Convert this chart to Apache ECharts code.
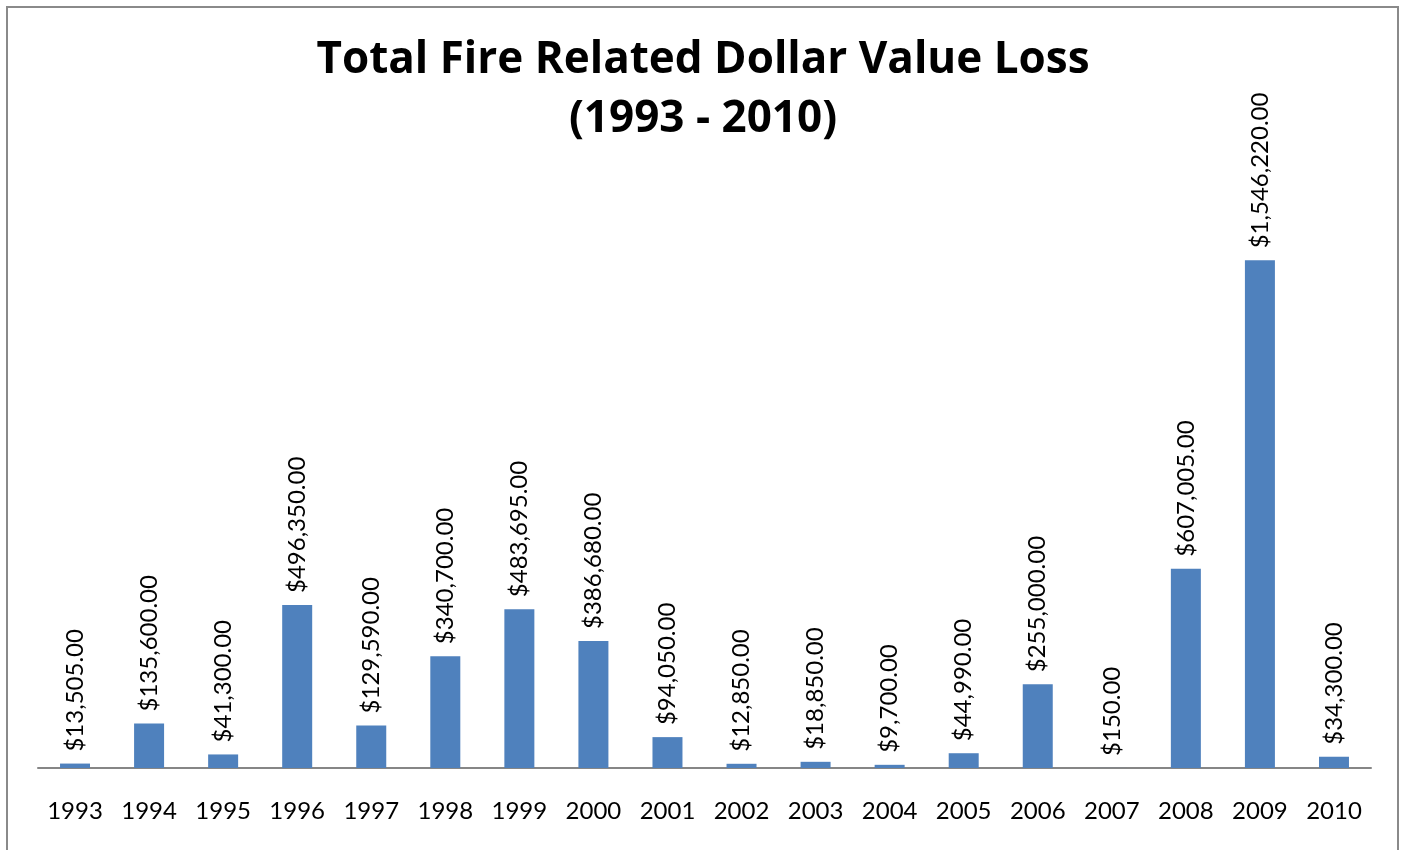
<!DOCTYPE html>
<html>
<head>
<meta charset="utf-8">
<script src="https://cdn.jsdelivr.net/npm/echarts@6/dist/echarts.min.js"></script>
<style>
  html, body { margin: 0; padding: 0; background: #fff; }
  #frame {
    position: absolute; left: 6px; top: 6px; width: 1393px; height: 900px;
    border: 2px solid #8a8a8a; box-sizing: border-box;
  }
  #chart { position: absolute; left: 0; top: 0; width: 1406px; height: 850px; }
</style>
</head>
<body>
<div id="frame"></div>
<div id="chart"></div>
<script>
// years and losses
const years = [
  "1993", "1994", "1995", "1996", "1997", "1998", "1999", "2000", "2001",
  "2002", "2003", "2004", "2005", "2006", "2007", "2008", "2009", "2010",
];
const losses = [
  13505, 135600, 41300, 496350, 129590, 340700, 483695, 386680, 94050,
  12850, 18850, 9700, 44990, 255000, 150, 607005, 1546220, 34300,
];

const money = (v) =>
  "$" + v.toLocaleString("en-US", { minimumFractionDigits: 2, maximumFractionDigits: 2 });

var myChart = echarts.init(document.getElementById("chart"));

var option = {
  animation: false,
  title: {
    text: "Total Fire Related Dollar Value Loss\n(1993 - 2010)",
    left: "center",
    top: 26,
    textStyle: {
      fontFamily: "Open Sans",
      fontSize: 44,
      fontWeight: "bold",
      lineHeight: 59,
      color: "#000",
    },
  },
  grid: {
    left: 38,
    right: 35,
    top: 177,
    bottom: 82,
  },
  xAxis: {
    type: "category",
    data: years,
    axisLine: { lineStyle: { color: "#868686", width: 2 } },
    axisTick: { show: false },
    axisLabel: {
      margin: 31,
      fontFamily: "Lato",
      fontSize: 24,
      color: "#000",
    },
  },
  yAxis: {
    type: "value",
    min: 0,
    max: 1800000,
    show: false,
    splitLine: { show: false },
  },
  series: [
    {
      name: "Loss",
      type: "bar",
      data: losses,
      barWidth: 30,
      itemStyle: { color: "#4F81BD" },
      label: {
        show: true,
        position: "top",
        rotate: 90,
        align: "left",
        verticalAlign: "middle",
        distance: 12,
        fontFamily: "Lato",
        fontSize: 24,
        color: "#000",
        formatter: (p) => money(p.value),
      },
    },
  ],
};

myChart.setOption(option);
</script>
</body>
</html>
